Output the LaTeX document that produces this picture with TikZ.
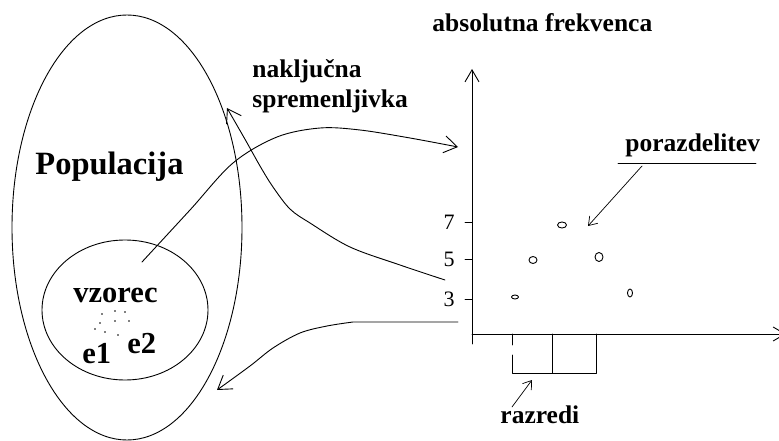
\documentclass[tikz,border=0pt]{standalone}
\usepackage{fontspec}
\setmainfont{Liberation Serif}
\usetikzlibrary{arrows.meta}
\tikzset{
  bigtip/.style={-{Straight Barb[length=13pt,width=17pt]}},
  smalltip/.style={-{Straight Barb[length=8pt,width=11pt]}},
  lbl/.style={font=\bfseries\fontsize{25.5}{25.5}\selectfont,inner sep=0pt,anchor=base west},
  biglbl/.style={font=\bfseries\fontsize{32.5}{32.5}\selectfont,inner sep=0pt,anchor=base west},
  num/.style={font=\fontsize{22}{22}\selectfont,inner sep=0pt}
}
\begin{document}
\begin{tikzpicture}[x=1pt,y=-1pt,line width=0.9pt,line cap=round,line join=round]
  \clip (0,0) rectangle (779,441);
  % populacija in vzorec
  \draw (127,227.5) ellipse [x radius=115,y radius=212.5];
  \draw (125,310) ellipse [x radius=83,y radius=70];
  \node[biglbl] (pop) at (35,175) {Populacija};
  \node[biglbl,font=\bfseries\fontsize{30.5}{30.5}\selectfont] (vzorec) at (73,302) {vzorec};
  \node[biglbl,font=\bfseries\fontsize{30.5}{30.5}\selectfont] (e1) at (82,363) {e1};
  \node[biglbl,font=\bfseries\fontsize{30.5}{30.5}\selectfont] (e2) at (127,353) {e2};
  \foreach \p in {(102,314),(115,311),(125,312),(100,323),(115,321),(129,321),(95,329),(105,332),(118,335)}
    \fill \p circle (0.8);
  % nakljucna spremenljivka
  \node[lbl] (nak) at (252,78) {naključna};
  \node[lbl] (spr) at (252,108) {spremenljivka};
  \coordinate (s1) at (142,262);
  \coordinate (t1) at (458,147);
  \draw[bigtip] plot[smooth,tension=0.55] coordinates {(s1) (190,210) (233,163) (277,137) (320,128) (360,130) (410,138) (t1)};
  \coordinate (s2) at (445,280);
  \coordinate (t2) at (227,108);
  \draw[bigtip] plot[smooth,tension=0.55] coordinates {(s2) (400,265) (350,247) (310,223) (290,209) (273,187) (260,166) (246,141) (t2)};
  \coordinate (s3) at (458,322);
  \coordinate (t3) at (217,390);
  \draw[bigtip] (s3) -- (353,322) plot[smooth,tension=0.55] coordinates {(353,322) (327,326) (300,333) (273,348) (250,366) (t3)};
  % graf
  \coordinate (o) at (472,334);
  \draw[-{Straight Barb[length=12pt,width=14pt]}] (472,344) -- (472,69);
  \draw[-{Straight Barb[length=12pt,width=14pt]}] (o) -- (786,334);
  \node[lbl] (abs) at (432,32) {absolutna frekvenca};
  \foreach \yy/\t in {222/7,259/5,299/3}{
    \draw (465,\yy) -- (472,\yy);
    \node[num] (n\t) at (449,\yy) {\t};
  }
  \foreach \xx in {512,552,596}
    \draw (\xx,334) -- (\xx,345);
  \draw (512,355) -- (512,373) -- (596,373) -- (596,345);
  \draw (552,345) -- (552,373);
  \coordinate (rz) at (532,380);
  \node[lbl] (razredi) at (500,423) {razredi};
  \draw[smalltip,line width=0.7pt] (512,407) -- (rz);
  % tocke
  \draw (515,297) ellipse [x radius=3.5,y radius=2];
  \draw (533,260) ellipse [x radius=4,y radius=3.5];
  \draw (562,225) ellipse [x radius=4.5,y radius=3];
  \draw (599,257) ellipse [x radius=4,y radius=4.5];
  \draw (630,293) ellipse [x radius=2.5,y radius=4];
  % porazdelitev
  \node[lbl] (por) at (625,152) {porazdelitev};
  \coordinate (pl) at (618,163);
  \coordinate (pr) at (756,163);
  \draw (pl) -- (pr);
  \coordinate (pt) at (588,226);
  \draw[smalltip,line width=0.7pt] (642,166) -- (pt);
\end{tikzpicture}
\end{document}
